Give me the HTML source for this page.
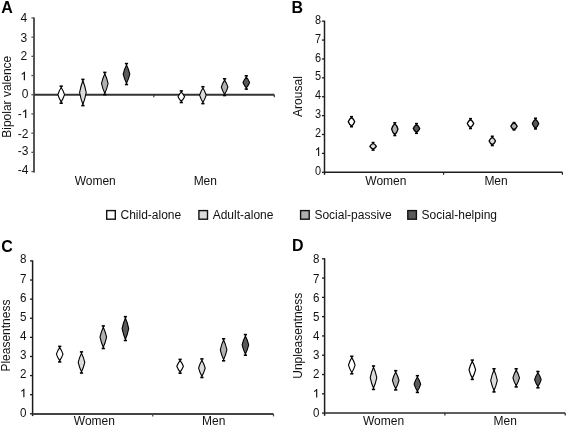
<!DOCTYPE html>
<html><head><meta charset="utf-8"><style>
html,body{margin:0;padding:0;background:#fff;}
svg{display:block;filter:blur(0.5px);}
.t{font-family:"Liberation Sans", sans-serif;font-size:12px;fill:#111;}
.t12{font-family:"Liberation Sans", sans-serif;font-size:12px;fill:#111;}
.L{font-family:"Liberation Sans", sans-serif;font-size:16px;font-weight:bold;fill:#000;}
</style></head><body>
<svg width="567" height="426" viewBox="0 0 567 426">
<rect width="567" height="426" fill="#fff"/>
<line x1="34.0" y1="17.45" x2="34.0" y2="172.50" stroke="#555" stroke-width="2.0"/>
<line x1="31.40" y1="171.55" x2="34.0" y2="171.55" stroke="#555" stroke-width="1.3"/>
<text transform="translate(28.4,173.50) scale(1.0,1)" text-anchor="end" class="t">-4</text>
<line x1="31.40" y1="152.35" x2="34.0" y2="152.35" stroke="#555" stroke-width="1.3"/>
<text transform="translate(28.4,154.55) scale(1.0,1)" text-anchor="end" class="t">-3</text>
<line x1="31.40" y1="133.15" x2="34.0" y2="133.15" stroke="#555" stroke-width="1.3"/>
<text transform="translate(28.4,137.65) scale(1.0,1)" text-anchor="end" class="t">-2</text>
<line x1="31.40" y1="113.95" x2="34.0" y2="113.95" stroke="#555" stroke-width="1.3"/>
<g transform="translate(28.4,118.05) scale(1.0,1)">
<path d="M3.35,0 L4.55,0 L4.55,-8.59 L3.6,-8.59 C3.3,-7.9 2.4,-7.1 1.2,-6.6 L1.2,-5.5 C2.1,-5.85 2.9,-6.4 3.35,-6.9 Z" transform="translate(-6.67,0)" fill="#111"/>
<text x="-6.67" y="0" text-anchor="end" class="t">-</text>
</g>
<line x1="31.40" y1="94.75" x2="34.0" y2="94.75" stroke="#555" stroke-width="1.3"/>
<text transform="translate(28.4,98.00) scale(1.0,1)" text-anchor="end" class="t">0</text>
<line x1="31.40" y1="75.55" x2="34.0" y2="75.55" stroke="#555" stroke-width="1.3"/>
<g transform="translate(27.099999999999998,80.35) scale(1.0,1)">
<path d="M3.35,0 L4.55,0 L4.55,-8.59 L3.6,-8.59 C3.3,-7.9 2.4,-7.1 1.2,-6.6 L1.2,-5.5 C2.1,-5.85 2.9,-6.4 3.35,-6.9 Z" transform="translate(-6.67,0)" fill="#111"/>
</g>
<line x1="31.40" y1="56.35" x2="34.0" y2="56.35" stroke="#555" stroke-width="1.3"/>
<text transform="translate(27.099999999999998,59.55) scale(1.0,1)" text-anchor="end" class="t">2</text>
<line x1="31.40" y1="37.15" x2="34.0" y2="37.15" stroke="#555" stroke-width="1.3"/>
<text transform="translate(27.099999999999998,41.55) scale(1.0,1)" text-anchor="end" class="t">3</text>
<line x1="31.40" y1="17.95" x2="34.0" y2="17.95" stroke="#555" stroke-width="1.3"/>
<text transform="translate(27.099999999999998,21.75) scale(1.0,1)" text-anchor="end" class="t">4</text>
<line x1="34.0" y1="94.75" x2="274.3" y2="94.75" stroke="#333" stroke-width="1.8"/>
<line x1="153.8" y1="94.75" x2="153.8" y2="97.25" stroke="#333" stroke-width="1.2"/>
<line x1="274.3" y1="94.75" x2="274.3" y2="97.25" stroke="#333" stroke-width="1.2"/>
<text transform="translate(1.3,12.8) scale(1,1.06)" class="L">A</text>
<text transform="translate(11.1,96.75) rotate(-90)" text-anchor="middle" class="t12">Bipolar valence</text>
<text x="95.2" y="184.5" text-anchor="middle" class="t12">Women</text>
<text x="205.3" y="184.7" text-anchor="middle" class="t12">Men</text>
<line x1="61.2" y1="86.2" x2="61.2" y2="103.2" stroke="#000" stroke-width="1"/>
<line x1="59.6" y1="86.2" x2="62.800000000000004" y2="86.2" stroke="#000" stroke-width="1.6"/>
<line x1="59.6" y1="103.2" x2="62.800000000000004" y2="103.2" stroke="#000" stroke-width="1.6"/>
<path d="M61.2,87.50 Q63.18,90.38 64.50,94.70 Q63.18,99.02 61.2,101.90 Q59.22,99.02 57.90,94.70 Q59.22,90.38 61.2,87.50Z" fill="#ffffff" stroke="#000" stroke-width="1.1"/>
<line x1="82.9" y1="79.4" x2="82.9" y2="105.6" stroke="#000" stroke-width="1"/>
<line x1="81.30000000000001" y1="79.4" x2="84.5" y2="79.4" stroke="#000" stroke-width="1.6"/>
<line x1="81.30000000000001" y1="105.6" x2="84.5" y2="105.6" stroke="#000" stroke-width="1.6"/>
<path d="M82.9,80.70 Q84.88,85.42 86.20,92.50 Q84.88,99.58 82.9,104.30 Q80.92,99.58 79.60,92.50 Q80.92,85.42 82.9,80.70Z" fill="#dcdcdc" stroke="#000" stroke-width="1.1"/>
<line x1="104.8" y1="72.4" x2="104.8" y2="94.6" stroke="#000" stroke-width="1"/>
<line x1="103.2" y1="72.4" x2="106.39999999999999" y2="72.4" stroke="#000" stroke-width="1.6"/>
<line x1="103.2" y1="94.6" x2="106.39999999999999" y2="94.6" stroke="#000" stroke-width="1.6"/>
<path d="M104.8,73.70 Q106.78,77.62 108.10,83.50 Q106.78,89.38 104.8,93.30 Q102.82,89.38 101.50,83.50 Q102.82,77.62 104.8,73.70Z" fill="#b0b0b0" stroke="#000" stroke-width="1.1"/>
<line x1="126.5" y1="63.6" x2="126.5" y2="84.5" stroke="#000" stroke-width="1"/>
<line x1="124.9" y1="63.6" x2="128.1" y2="63.6" stroke="#000" stroke-width="1.6"/>
<line x1="124.9" y1="84.5" x2="128.1" y2="84.5" stroke="#000" stroke-width="1.6"/>
<path d="M126.5,64.90 Q128.48,68.56 129.80,74.05 Q128.48,79.54 126.5,83.20 Q124.52,79.54 123.20,74.05 Q124.52,68.56 126.5,64.90Z" fill="#5a5a5a" stroke="#000" stroke-width="1.1"/>
<line x1="181.3" y1="90.9" x2="181.3" y2="102.5" stroke="#000" stroke-width="1"/>
<line x1="179.70000000000002" y1="90.9" x2="182.9" y2="90.9" stroke="#000" stroke-width="1.6"/>
<line x1="179.70000000000002" y1="102.5" x2="182.9" y2="102.5" stroke="#000" stroke-width="1.6"/>
<path d="M181.3,92.20 Q183.28,94.00 184.60,96.70 Q183.28,99.40 181.3,101.20 Q179.32,99.40 178.00,96.70 Q179.32,94.00 181.3,92.20Z" fill="#ffffff" stroke="#000" stroke-width="1.1"/>
<line x1="202.9" y1="86.7" x2="202.9" y2="103.6" stroke="#000" stroke-width="1"/>
<line x1="201.3" y1="86.7" x2="204.5" y2="86.7" stroke="#000" stroke-width="1.6"/>
<line x1="201.3" y1="103.6" x2="204.5" y2="103.6" stroke="#000" stroke-width="1.6"/>
<path d="M202.9,88.00 Q204.88,90.86 206.20,95.15 Q204.88,99.44 202.9,102.30 Q200.92,99.44 199.60,95.15 Q200.92,90.86 202.9,88.00Z" fill="#dcdcdc" stroke="#000" stroke-width="1.1"/>
<line x1="224.6" y1="78.8" x2="224.6" y2="95.5" stroke="#000" stroke-width="1"/>
<line x1="223.0" y1="78.8" x2="226.2" y2="78.8" stroke="#000" stroke-width="1.6"/>
<line x1="223.0" y1="95.5" x2="226.2" y2="95.5" stroke="#000" stroke-width="1.6"/>
<path d="M224.6,80.10 Q226.58,82.92 227.90,87.15 Q226.58,91.38 224.6,94.20 Q222.62,91.38 221.30,87.15 Q222.62,82.92 224.6,80.10Z" fill="#b0b0b0" stroke="#000" stroke-width="1.1"/>
<line x1="246.3" y1="75.8" x2="246.3" y2="89.1" stroke="#000" stroke-width="1"/>
<line x1="244.70000000000002" y1="75.8" x2="247.9" y2="75.8" stroke="#000" stroke-width="1.6"/>
<line x1="244.70000000000002" y1="89.1" x2="247.9" y2="89.1" stroke="#000" stroke-width="1.6"/>
<path d="M246.3,77.10 Q248.28,79.24 249.60,82.45 Q248.28,85.66 246.3,87.80 Q244.32,85.66 243.00,82.45 Q244.32,79.24 246.3,77.10Z" fill="#5a5a5a" stroke="#000" stroke-width="1.1"/>
<line x1="324.5" y1="20.68" x2="324.5" y2="174.80" stroke="#1e1e1e" stroke-width="1.5"/>
<line x1="321.90" y1="172.30" x2="324.5" y2="172.30" stroke="#1e1e1e" stroke-width="1.3"/>
<text transform="translate(321.1,174.75) scale(0.91,1)" text-anchor="end" class="t">0</text>
<line x1="321.90" y1="153.41" x2="324.5" y2="153.41" stroke="#1e1e1e" stroke-width="1.3"/>
<g transform="translate(321.1,155.88) scale(0.91,1)">
<path d="M3.35,0 L4.55,0 L4.55,-8.59 L3.6,-8.59 C3.3,-7.9 2.4,-7.1 1.2,-6.6 L1.2,-5.5 C2.1,-5.85 2.9,-6.4 3.35,-6.9 Z" transform="translate(-6.67,0)" fill="#111"/>
</g>
<line x1="321.90" y1="134.52" x2="324.5" y2="134.52" stroke="#1e1e1e" stroke-width="1.3"/>
<text transform="translate(321.1,137.00) scale(0.91,1)" text-anchor="end" class="t">2</text>
<line x1="321.90" y1="115.63" x2="324.5" y2="115.63" stroke="#1e1e1e" stroke-width="1.3"/>
<text transform="translate(321.1,118.12) scale(0.91,1)" text-anchor="end" class="t">3</text>
<line x1="321.90" y1="96.74" x2="324.5" y2="96.74" stroke="#1e1e1e" stroke-width="1.3"/>
<text transform="translate(321.1,99.25) scale(0.91,1)" text-anchor="end" class="t">4</text>
<line x1="321.90" y1="77.85" x2="324.5" y2="77.85" stroke="#1e1e1e" stroke-width="1.3"/>
<text transform="translate(321.1,80.38) scale(0.91,1)" text-anchor="end" class="t">5</text>
<line x1="321.90" y1="58.96" x2="324.5" y2="58.96" stroke="#1e1e1e" stroke-width="1.3"/>
<text transform="translate(321.1,61.50) scale(0.91,1)" text-anchor="end" class="t">6</text>
<line x1="321.90" y1="40.07" x2="324.5" y2="40.07" stroke="#1e1e1e" stroke-width="1.3"/>
<text transform="translate(321.1,42.62) scale(0.91,1)" text-anchor="end" class="t">7</text>
<line x1="321.90" y1="21.18" x2="324.5" y2="21.18" stroke="#1e1e1e" stroke-width="1.3"/>
<text transform="translate(321.1,23.75) scale(0.91,1)" text-anchor="end" class="t">8</text>
<line x1="324.5" y1="172.2" x2="562.4" y2="172.2" stroke="#1e1e1e" stroke-width="1.5"/>
<line x1="443.6" y1="172.2" x2="443.6" y2="174.7" stroke="#1e1e1e" stroke-width="1.2"/>
<line x1="562.4" y1="172.2" x2="562.4" y2="174.7" stroke="#1e1e1e" stroke-width="1.2"/>
<text transform="translate(291.5,12.7) scale(1,1.06)" class="L">B</text>
<text transform="translate(301.8,96.55) rotate(-90)" text-anchor="middle" class="t12">Arousal</text>
<text x="385.85" y="184.6" text-anchor="middle" class="t12">Women</text>
<text x="496.05" y="184.6" text-anchor="middle" class="t12">Men</text>
<line x1="351.5" y1="116.7" x2="351.5" y2="126.7" stroke="#000" stroke-width="1"/>
<line x1="350.0" y1="116.7" x2="353.0" y2="116.7" stroke="#000" stroke-width="1.6"/>
<line x1="350.0" y1="126.7" x2="353.0" y2="126.7" stroke="#000" stroke-width="1.6"/>
<path d="M351.5,117.60 Q353.68,118.91 354.70,121.70 Q353.68,124.49 351.5,125.80 Q349.32,124.49 348.30,121.70 Q349.32,118.91 351.5,117.60Z" fill="#ffffff" stroke="#000" stroke-width="1.3"/>
<line x1="373.1" y1="142.6" x2="373.1" y2="150.1" stroke="#000" stroke-width="1"/>
<line x1="371.6" y1="142.6" x2="374.6" y2="142.6" stroke="#000" stroke-width="1.6"/>
<line x1="371.6" y1="150.1" x2="374.6" y2="150.1" stroke="#000" stroke-width="1.6"/>
<path d="M373.1,143.50 Q375.28,144.41 376.30,146.35 Q375.28,148.29 373.1,149.20 Q370.92,148.29 369.90,146.35 Q370.92,144.41 373.1,143.50Z" fill="#dcdcdc" stroke="#000" stroke-width="1.3"/>
<line x1="394.8" y1="122.8" x2="394.8" y2="135.5" stroke="#000" stroke-width="1"/>
<line x1="393.3" y1="122.8" x2="396.3" y2="122.8" stroke="#000" stroke-width="1.6"/>
<line x1="393.3" y1="135.5" x2="396.3" y2="135.5" stroke="#000" stroke-width="1.6"/>
<path d="M394.8,123.70 Q396.98,125.44 398.00,129.15 Q396.98,132.86 394.8,134.60 Q392.62,132.86 391.60,129.15 Q392.62,125.44 394.8,123.70Z" fill="#b0b0b0" stroke="#000" stroke-width="1.3"/>
<line x1="416.5" y1="123.6" x2="416.5" y2="133.3" stroke="#000" stroke-width="1"/>
<line x1="415.0" y1="123.6" x2="418.0" y2="123.6" stroke="#000" stroke-width="1.6"/>
<line x1="415.0" y1="133.3" x2="418.0" y2="133.3" stroke="#000" stroke-width="1.6"/>
<path d="M416.5,124.50 Q418.68,125.76 419.70,128.45 Q418.68,131.14 416.5,132.40 Q414.32,131.14 413.30,128.45 Q414.32,125.76 416.5,124.50Z" fill="#5a5a5a" stroke="#000" stroke-width="1.3"/>
<line x1="470.5" y1="118.7" x2="470.5" y2="128.5" stroke="#000" stroke-width="1"/>
<line x1="469.0" y1="118.7" x2="472.0" y2="118.7" stroke="#000" stroke-width="1.6"/>
<line x1="469.0" y1="128.5" x2="472.0" y2="128.5" stroke="#000" stroke-width="1.6"/>
<path d="M470.5,119.60 Q472.68,120.88 473.70,123.60 Q472.68,126.32 470.5,127.60 Q468.32,126.32 467.30,123.60 Q468.32,120.88 470.5,119.60Z" fill="#ffffff" stroke="#000" stroke-width="1.3"/>
<line x1="492.3" y1="136.3" x2="492.3" y2="145.5" stroke="#000" stroke-width="1"/>
<line x1="490.8" y1="136.3" x2="493.8" y2="136.3" stroke="#000" stroke-width="1.6"/>
<line x1="490.8" y1="145.5" x2="493.8" y2="145.5" stroke="#000" stroke-width="1.6"/>
<path d="M492.3,137.20 Q494.48,138.38 495.50,140.90 Q494.48,143.42 492.3,144.60 Q490.12,143.42 489.10,140.90 Q490.12,138.38 492.3,137.20Z" fill="#dcdcdc" stroke="#000" stroke-width="1.3"/>
<line x1="514.0" y1="122.6" x2="514.0" y2="129.85" stroke="#000" stroke-width="1"/>
<line x1="512.5" y1="122.6" x2="515.5" y2="122.6" stroke="#000" stroke-width="1.6"/>
<line x1="512.5" y1="129.85" x2="515.5" y2="129.85" stroke="#000" stroke-width="1.6"/>
<path d="M514.0,122.80 Q516.18,123.90 517.20,126.22 Q516.18,128.55 514.0,129.65 Q511.82,128.55 510.80,126.22 Q511.82,123.90 514.0,122.80Z" fill="#b0b0b0" stroke="#000" stroke-width="1.3"/>
<line x1="535.5" y1="118.3" x2="535.5" y2="128.9" stroke="#000" stroke-width="1"/>
<line x1="534.0" y1="118.3" x2="537.0" y2="118.3" stroke="#000" stroke-width="1.6"/>
<line x1="534.0" y1="128.9" x2="537.0" y2="128.9" stroke="#000" stroke-width="1.6"/>
<path d="M535.5,119.20 Q537.68,120.61 538.70,123.60 Q537.68,126.59 535.5,128.00 Q533.32,126.59 532.30,123.60 Q533.32,120.61 535.5,119.20Z" fill="#5a5a5a" stroke="#000" stroke-width="1.3"/>
<line x1="32.6" y1="260.42" x2="32.6" y2="416.10" stroke="#1a1a1a" stroke-width="1.5"/>
<line x1="30.00" y1="413.80" x2="32.6" y2="413.80" stroke="#1a1a1a" stroke-width="1.3"/>
<text transform="translate(26.5,416.55) scale(0.97,1)" text-anchor="end" class="t">0</text>
<line x1="30.00" y1="394.69" x2="32.6" y2="394.69" stroke="#1a1a1a" stroke-width="1.3"/>
<g transform="translate(26.5,397.30) scale(0.97,1)">
<path d="M3.35,0 L4.55,0 L4.55,-8.59 L3.6,-8.59 C3.3,-7.9 2.4,-7.1 1.2,-6.6 L1.2,-5.5 C2.1,-5.85 2.9,-6.4 3.35,-6.9 Z" transform="translate(-6.67,0)" fill="#111"/>
</g>
<line x1="30.00" y1="375.58" x2="32.6" y2="375.58" stroke="#1a1a1a" stroke-width="1.3"/>
<text transform="translate(26.5,377.85) scale(0.97,1)" text-anchor="end" class="t">2</text>
<line x1="30.00" y1="356.47" x2="32.6" y2="356.47" stroke="#1a1a1a" stroke-width="1.3"/>
<text transform="translate(26.5,359.05) scale(0.97,1)" text-anchor="end" class="t">3</text>
<line x1="30.00" y1="337.36" x2="32.6" y2="337.36" stroke="#1a1a1a" stroke-width="1.3"/>
<text transform="translate(26.5,339.55) scale(0.97,1)" text-anchor="end" class="t">4</text>
<line x1="30.00" y1="318.25" x2="32.6" y2="318.25" stroke="#1a1a1a" stroke-width="1.3"/>
<text transform="translate(26.5,320.95) scale(0.97,1)" text-anchor="end" class="t">5</text>
<line x1="30.00" y1="299.14" x2="32.6" y2="299.14" stroke="#1a1a1a" stroke-width="1.3"/>
<text transform="translate(26.5,301.60) scale(0.97,1)" text-anchor="end" class="t">6</text>
<line x1="30.00" y1="280.03" x2="32.6" y2="280.03" stroke="#1a1a1a" stroke-width="1.3"/>
<text transform="translate(26.5,282.95) scale(0.97,1)" text-anchor="end" class="t">7</text>
<line x1="30.00" y1="260.92" x2="32.6" y2="260.92" stroke="#1a1a1a" stroke-width="1.3"/>
<text transform="translate(26.5,263.05) scale(0.97,1)" text-anchor="end" class="t">8</text>
<line x1="32.6" y1="413.9" x2="273.5" y2="413.9" stroke="#444" stroke-width="2.0"/>
<line x1="152.75" y1="413.9" x2="152.75" y2="416.4" stroke="#444" stroke-width="1.2"/>
<line x1="273.5" y1="413.9" x2="273.5" y2="416.4" stroke="#444" stroke-width="1.2"/>
<text transform="translate(1.3,251.8) scale(1,1.06)" class="L">C</text>
<text transform="translate(9.5,335.6) rotate(-90)" text-anchor="middle" class="t12">Pleasentness</text>
<text x="94.4" y="424.9" text-anchor="middle" class="t12">Women</text>
<text x="213.65" y="424.9" text-anchor="middle" class="t12">Men</text>
<line x1="59.7" y1="346.4" x2="59.7" y2="361.9" stroke="#000" stroke-width="1"/>
<line x1="58.1" y1="346.4" x2="61.300000000000004" y2="346.4" stroke="#000" stroke-width="1.6"/>
<line x1="58.1" y1="361.9" x2="61.300000000000004" y2="361.9" stroke="#000" stroke-width="1.6"/>
<path d="M59.7,347.70 Q61.68,350.28 63.00,354.15 Q61.68,358.02 59.7,360.60 Q57.72,358.02 56.40,354.15 Q57.72,350.28 59.7,347.70Z" fill="#ffffff" stroke="#000" stroke-width="1.1"/>
<line x1="81.5" y1="351.9" x2="81.5" y2="373.0" stroke="#000" stroke-width="1"/>
<line x1="79.9" y1="351.9" x2="83.1" y2="351.9" stroke="#000" stroke-width="1.6"/>
<line x1="79.9" y1="373.0" x2="83.1" y2="373.0" stroke="#000" stroke-width="1.6"/>
<path d="M81.5,353.20 Q83.48,356.90 84.80,362.45 Q83.48,368.00 81.5,371.70 Q79.52,368.00 78.20,362.45 Q79.52,356.90 81.5,353.20Z" fill="#dcdcdc" stroke="#000" stroke-width="1.1"/>
<line x1="103.3" y1="325.9" x2="103.3" y2="348.5" stroke="#000" stroke-width="1"/>
<line x1="101.7" y1="325.9" x2="104.89999999999999" y2="325.9" stroke="#000" stroke-width="1.6"/>
<line x1="101.7" y1="348.5" x2="104.89999999999999" y2="348.5" stroke="#000" stroke-width="1.6"/>
<path d="M103.3,327.20 Q105.28,331.20 106.60,337.20 Q105.28,343.20 103.3,347.20 Q101.32,343.20 100.00,337.20 Q101.32,331.20 103.3,327.20Z" fill="#b0b0b0" stroke="#000" stroke-width="1.1"/>
<line x1="125.4" y1="316.7" x2="125.4" y2="340.5" stroke="#000" stroke-width="1"/>
<line x1="123.80000000000001" y1="316.7" x2="127.0" y2="316.7" stroke="#000" stroke-width="1.6"/>
<line x1="123.80000000000001" y1="340.5" x2="127.0" y2="340.5" stroke="#000" stroke-width="1.6"/>
<path d="M125.4,318.00 Q127.38,322.24 128.70,328.60 Q127.38,334.96 125.4,339.20 Q123.42,334.96 122.10,328.60 Q123.42,322.24 125.4,318.00Z" fill="#5a5a5a" stroke="#000" stroke-width="1.1"/>
<line x1="180.1" y1="359.4" x2="180.1" y2="373.2" stroke="#000" stroke-width="1"/>
<line x1="178.5" y1="359.4" x2="181.7" y2="359.4" stroke="#000" stroke-width="1.6"/>
<line x1="178.5" y1="373.2" x2="181.7" y2="373.2" stroke="#000" stroke-width="1.6"/>
<path d="M180.1,360.70 Q182.08,362.94 183.40,366.30 Q182.08,369.66 180.1,371.90 Q178.12,369.66 176.80,366.30 Q178.12,362.94 180.1,360.70Z" fill="#ffffff" stroke="#000" stroke-width="1.1"/>
<line x1="201.9" y1="358.9" x2="201.9" y2="377.5" stroke="#000" stroke-width="1"/>
<line x1="200.3" y1="358.9" x2="203.5" y2="358.9" stroke="#000" stroke-width="1.6"/>
<line x1="200.3" y1="377.5" x2="203.5" y2="377.5" stroke="#000" stroke-width="1.6"/>
<path d="M201.9,360.20 Q203.88,363.40 205.20,368.20 Q203.88,373.00 201.9,376.20 Q199.92,373.00 198.60,368.20 Q199.92,363.40 201.9,360.20Z" fill="#dcdcdc" stroke="#000" stroke-width="1.1"/>
<line x1="223.6" y1="338.8" x2="223.6" y2="360.8" stroke="#000" stroke-width="1"/>
<line x1="222.0" y1="338.8" x2="225.2" y2="338.8" stroke="#000" stroke-width="1.6"/>
<line x1="222.0" y1="360.8" x2="225.2" y2="360.8" stroke="#000" stroke-width="1.6"/>
<path d="M223.6,340.10 Q225.58,343.98 226.90,349.80 Q225.58,355.62 223.6,359.50 Q221.62,355.62 220.30,349.80 Q221.62,343.98 223.6,340.10Z" fill="#b0b0b0" stroke="#000" stroke-width="1.1"/>
<line x1="245.4" y1="334.6" x2="245.4" y2="355.2" stroke="#000" stroke-width="1"/>
<line x1="243.8" y1="334.6" x2="247.0" y2="334.6" stroke="#000" stroke-width="1.6"/>
<line x1="243.8" y1="355.2" x2="247.0" y2="355.2" stroke="#000" stroke-width="1.6"/>
<path d="M245.4,335.90 Q247.38,339.50 248.70,344.90 Q247.38,350.30 245.4,353.90 Q243.42,350.30 242.10,344.90 Q243.42,339.50 245.4,335.90Z" fill="#5a5a5a" stroke="#000" stroke-width="1.1"/>
<line x1="324.6" y1="258.28" x2="324.6" y2="415.80" stroke="#1e1e1e" stroke-width="1.5"/>
<line x1="322.00" y1="413.10" x2="324.6" y2="413.10" stroke="#1e1e1e" stroke-width="1.3"/>
<text transform="translate(319.3,417.05) scale(0.96,1)" text-anchor="end" class="t">0</text>
<line x1="322.00" y1="393.81" x2="324.6" y2="393.81" stroke="#1e1e1e" stroke-width="1.3"/>
<g transform="translate(319.3,397.60) scale(0.96,1)">
<path d="M3.35,0 L4.55,0 L4.55,-8.59 L3.6,-8.59 C3.3,-7.9 2.4,-7.1 1.2,-6.6 L1.2,-5.5 C2.1,-5.85 2.9,-6.4 3.35,-6.9 Z" transform="translate(-6.67,0)" fill="#111"/>
</g>
<line x1="322.00" y1="374.52" x2="324.6" y2="374.52" stroke="#1e1e1e" stroke-width="1.3"/>
<text transform="translate(319.3,378.35) scale(0.96,1)" text-anchor="end" class="t">2</text>
<line x1="322.00" y1="355.23" x2="324.6" y2="355.23" stroke="#1e1e1e" stroke-width="1.3"/>
<text transform="translate(319.3,359.05) scale(0.96,1)" text-anchor="end" class="t">3</text>
<line x1="322.00" y1="335.94" x2="324.6" y2="335.94" stroke="#1e1e1e" stroke-width="1.3"/>
<text transform="translate(319.3,339.75) scale(0.96,1)" text-anchor="end" class="t">4</text>
<line x1="322.00" y1="316.65" x2="324.6" y2="316.65" stroke="#1e1e1e" stroke-width="1.3"/>
<text transform="translate(319.3,320.50) scale(0.96,1)" text-anchor="end" class="t">5</text>
<line x1="322.00" y1="297.36" x2="324.6" y2="297.36" stroke="#1e1e1e" stroke-width="1.3"/>
<text transform="translate(319.3,301.60) scale(0.96,1)" text-anchor="end" class="t">6</text>
<line x1="322.00" y1="278.07" x2="324.6" y2="278.07" stroke="#1e1e1e" stroke-width="1.3"/>
<text transform="translate(319.3,282.95) scale(0.96,1)" text-anchor="end" class="t">7</text>
<line x1="322.00" y1="258.78" x2="324.6" y2="258.78" stroke="#1e1e1e" stroke-width="1.3"/>
<text transform="translate(319.3,262.95) scale(0.96,1)" text-anchor="end" class="t">8</text>
<line x1="324.6" y1="413.0" x2="565.2" y2="413.0" stroke="#2a2a2a" stroke-width="1.7"/>
<line x1="444.9" y1="413.0" x2="444.9" y2="415.5" stroke="#2a2a2a" stroke-width="1.2"/>
<line x1="565.2" y1="413.0" x2="565.2" y2="415.5" stroke="#2a2a2a" stroke-width="1.2"/>
<text transform="translate(291.9,251.2) scale(1,1.06)" class="L">D</text>
<text transform="translate(301.9,335.75) rotate(-90)" text-anchor="middle" class="t12">Unpleasentness</text>
<text x="383.55" y="424.6" text-anchor="middle" class="t12">Women</text>
<text x="505.25" y="424.6" text-anchor="middle" class="t12">Men</text>
<line x1="351.8" y1="356.3" x2="351.8" y2="373.8" stroke="#000" stroke-width="1"/>
<line x1="350.2" y1="356.3" x2="353.40000000000003" y2="356.3" stroke="#000" stroke-width="1.6"/>
<line x1="350.2" y1="373.8" x2="353.40000000000003" y2="373.8" stroke="#000" stroke-width="1.6"/>
<path d="M351.8,357.60 Q353.78,360.58 355.10,365.05 Q353.78,369.52 351.8,372.50 Q349.82,369.52 348.50,365.05 Q349.82,360.58 351.8,357.60Z" fill="#ffffff" stroke="#000" stroke-width="1.1"/>
<line x1="373.5" y1="366.0" x2="373.5" y2="389.4" stroke="#000" stroke-width="1"/>
<line x1="371.9" y1="366.0" x2="375.1" y2="366.0" stroke="#000" stroke-width="1.6"/>
<line x1="371.9" y1="389.4" x2="375.1" y2="389.4" stroke="#000" stroke-width="1.6"/>
<path d="M373.5,367.30 Q375.48,371.46 376.80,377.70 Q375.48,383.94 373.5,388.10 Q371.52,383.94 370.20,377.70 Q371.52,371.46 373.5,367.30Z" fill="#dcdcdc" stroke="#000" stroke-width="1.1"/>
<line x1="395.7" y1="370.7" x2="395.7" y2="389.9" stroke="#000" stroke-width="1"/>
<line x1="394.09999999999997" y1="370.7" x2="397.3" y2="370.7" stroke="#000" stroke-width="1.6"/>
<line x1="394.09999999999997" y1="389.9" x2="397.3" y2="389.9" stroke="#000" stroke-width="1.6"/>
<path d="M395.7,372.00 Q397.68,375.32 399.00,380.30 Q397.68,385.28 395.7,388.60 Q393.72,385.28 392.40,380.30 Q393.72,375.32 395.7,372.00Z" fill="#b0b0b0" stroke="#000" stroke-width="1.1"/>
<line x1="417.4" y1="375.7" x2="417.4" y2="392.4" stroke="#000" stroke-width="1"/>
<line x1="415.79999999999995" y1="375.7" x2="419.0" y2="375.7" stroke="#000" stroke-width="1.6"/>
<line x1="415.79999999999995" y1="392.4" x2="419.0" y2="392.4" stroke="#000" stroke-width="1.6"/>
<path d="M417.4,377.00 Q419.38,379.82 420.70,384.05 Q419.38,388.28 417.4,391.10 Q415.42,388.28 414.10,384.05 Q415.42,379.82 417.4,377.00Z" fill="#5a5a5a" stroke="#000" stroke-width="1.1"/>
<line x1="472.3" y1="360.1" x2="472.3" y2="379.4" stroke="#000" stroke-width="1"/>
<line x1="470.7" y1="360.1" x2="473.90000000000003" y2="360.1" stroke="#000" stroke-width="1.6"/>
<line x1="470.7" y1="379.4" x2="473.90000000000003" y2="379.4" stroke="#000" stroke-width="1.6"/>
<path d="M472.3,361.40 Q474.28,364.74 475.60,369.75 Q474.28,374.76 472.3,378.10 Q470.32,374.76 469.00,369.75 Q470.32,364.74 472.3,361.40Z" fill="#ffffff" stroke="#000" stroke-width="1.1"/>
<line x1="494.0" y1="368.8" x2="494.0" y2="391.9" stroke="#000" stroke-width="1"/>
<line x1="492.4" y1="368.8" x2="495.6" y2="368.8" stroke="#000" stroke-width="1.6"/>
<line x1="492.4" y1="391.9" x2="495.6" y2="391.9" stroke="#000" stroke-width="1.6"/>
<path d="M494.0,370.10 Q495.98,374.20 497.30,380.35 Q495.98,386.50 494.0,390.60 Q492.02,386.50 490.70,380.35 Q492.02,374.20 494.0,370.10Z" fill="#dcdcdc" stroke="#000" stroke-width="1.1"/>
<line x1="516.2" y1="368.8" x2="516.2" y2="386.9" stroke="#000" stroke-width="1"/>
<line x1="514.6" y1="368.8" x2="517.8000000000001" y2="368.8" stroke="#000" stroke-width="1.6"/>
<line x1="514.6" y1="386.9" x2="517.8000000000001" y2="386.9" stroke="#000" stroke-width="1.6"/>
<path d="M516.2,370.10 Q518.18,373.20 519.50,377.85 Q518.18,382.50 516.2,385.60 Q514.22,382.50 512.90,377.85 Q514.22,373.20 516.2,370.10Z" fill="#b0b0b0" stroke="#000" stroke-width="1.1"/>
<line x1="537.9" y1="371.5" x2="537.9" y2="387.8" stroke="#000" stroke-width="1"/>
<line x1="536.3" y1="371.5" x2="539.5" y2="371.5" stroke="#000" stroke-width="1.6"/>
<line x1="536.3" y1="387.8" x2="539.5" y2="387.8" stroke="#000" stroke-width="1.6"/>
<path d="M537.9,372.80 Q539.88,375.54 541.20,379.65 Q539.88,383.76 537.9,386.50 Q535.92,383.76 534.60,379.65 Q535.92,375.54 537.9,372.80Z" fill="#5a5a5a" stroke="#000" stroke-width="1.1"/>
<rect x="106.7" y="210.6" width="8.6" height="8.6" fill="#ffffff" stroke="#111" stroke-width="1.4"/>
<text x="120.50" y="218.8" class="t12">Child-alone</text>
<rect x="198.9" y="210.6" width="8.6" height="8.6" fill="#dcdcdc" stroke="#111" stroke-width="1.4"/>
<text x="212.70" y="218.8" class="t12">Adult-alone</text>
<rect x="300.6" y="210.6" width="8.6" height="8.6" fill="#b0b0b0" stroke="#111" stroke-width="1.4"/>
<text x="314.40" y="218.8" class="t12">Social-passive</text>
<rect x="407.8" y="210.6" width="8.6" height="8.6" fill="#5a5a5a" stroke="#111" stroke-width="1.4"/>
<text x="421.60" y="218.8" class="t12">Social-helping</text>
</svg>
</body></html>
